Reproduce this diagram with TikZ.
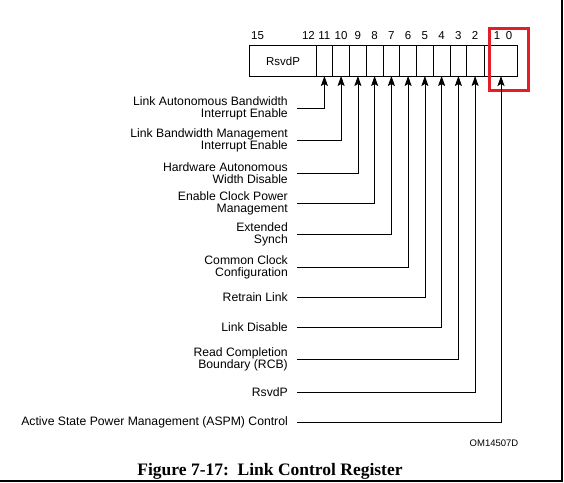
\documentclass[tikz,border=0pt]{standalone}
\usepackage{fontspec}
\setmainfont{Liberation Sans}
\newfontfamily\capfont{Liberation Serif}
\usetikzlibrary{arrows.meta}
\definecolor{markred}{RGB}{228,30,38}
\tikzset{
  bitnum/.style={inner sep=0pt, anchor=base, font=\fontsize{11.5}{13}\selectfont},
  fieldlbl/.style={anchor=east, align=right, inner sep=0pt, font=\fontsize{12.2}{12}\selectfont},
  feed/.style={line width=0.8pt, -{Stealth[length=10pt,width=7pt,inset=2pt]}},
  regline/.style={line width=0.8pt},
}

\begin{document}
\begin{tikzpicture}[x=1pt,y=-1pt]
    \useasboundingbox (0,0) rectangle (564,482);
    % page edges
    \draw[line width=1.2pt] (0,481) -- (562,481) -- (562,0);
    % register box and bit cells
    \draw[regline] (249,45) rectangle (517,76);
    \draw[regline] (316,45) -- (316,76);
    \draw[regline] (332.75,45) -- (332.75,76);
    \draw[regline] (349.5,45) -- (349.5,76);
    \draw[regline] (366.25,45) -- (366.25,76);
    \draw[regline] (383,45) -- (383,76);
    \draw[regline] (399.75,45) -- (399.75,76);
    \draw[regline] (416.5,45) -- (416.5,76);
    \draw[regline] (433.25,45) -- (433.25,76);
    \draw[regline] (450,45) -- (450,76);
    \draw[regline] (466.75,45) -- (466.75,76);
    \draw[regline] (484,45) -- (484,76);
    \node[bitnum, anchor=center] (rsvdtop) at (283,61) {RsvdP};
    % bit numbers
    \node[bitnum, anchor=base west] (n15) at (251,39) {15};
    \node[bitnum, anchor=base east] (n12) at (315,39) {12};
    \node[bitnum] (n11) at (324.4,39) {11};
    \node[bitnum] (n10) at (341.1,39) {10};
    \node[bitnum] (n9) at (357.9,39) {9};
    \node[bitnum] (n8) at (374.6,39) {8};
    \node[bitnum] (n7) at (391.4,39) {7};
    \node[bitnum] (n6) at (408.1,39) {6};
    \node[bitnum] (n5) at (424.9,39) {5};
    \node[bitnum] (n4) at (441.6,39) {4};
    \node[bitnum] (n3) at (458.4,39) {3};
    \node[bitnum] (n2) at (475.1,39) {2};
    \node[bitnum] (n1) at (497,39) {1};
    \node[bitnum] (n0) at (509,39) {0};
    % highlight
    \draw[markred, line width=3pt] (489,28) rectangle (528,90);
    % arrow tips at the register
    \coordinate (t11) at (324.4,76);
    \coordinate (t10) at (341.1,76);
    \coordinate (t9) at (357.9,76);
    \coordinate (t8) at (374.6,76);
    \coordinate (t7) at (391.4,76);
    \coordinate (t6) at (408.1,76);
    \coordinate (t5) at (424.9,76);
    \coordinate (t4) at (441.6,76);
    \coordinate (t3) at (458.4,76);
    \coordinate (t2) at (475.1,76);
    \coordinate (t0) at (501,76);
    % field names
    \node[fieldlbl] (lbwie) at (288,108) {Link Autonomous Bandwidth\\Interrupt Enable};
    \node[fieldlbl] (lbmie) at (288,140) {Link Bandwidth Management\\Interrupt Enable};
    \node[fieldlbl] (hawd) at (288,173) {Hardware Autonomous\\Width Disable};
    \node[fieldlbl] (ecpm) at (288,203) {Enable Clock Power\\Management};
    \node[fieldlbl] (es) at (288,234) {Extended\\Synch};
    \node[fieldlbl] (ccc) at (288,267) {Common Clock\\Configuration};
    \node[fieldlbl] (rl) at (288,297) {Retrain Link};
    \node[fieldlbl] (ld) at (288,327) {Link Disable};
    \node[fieldlbl] (rcb) at (288,359) {Read Completion\\Boundary (RCB)};
    \node[fieldlbl] (rsvd) at (288,392) {RsvdP};
    \node[fieldlbl] (aspm) at (288,422) {Active State Power Management (ASPM) Control};
    % connectors
    \draw[feed] ([xshift=9pt]lbwie.east) -| (t11);
    \draw[feed] ([xshift=9pt]lbmie.east) -| (t10);
    \draw[feed] ([xshift=9pt]hawd.east) -| (t9);
    \draw[feed] ([xshift=9pt]ecpm.east) -| (t8);
    \draw[feed] ([xshift=9pt]es.east) -| (t7);
    \draw[feed] ([xshift=9pt]ccc.east) -| (t6);
    \draw[feed] ([xshift=9pt]rl.east) -| (t5);
    \draw[feed] ([xshift=9pt]ld.east) -| (t4);
    \draw[feed] ([xshift=9pt]rcb.east) -| (t3);
    \draw[feed] ([xshift=9pt]rsvd.east) -| (t2);
    \draw[feed] ([xshift=9pt]aspm.east) -| (t0);
    \node[font=\fontsize{9.5}{11}\selectfont] (figid) at (494,443) {OM14507D};
    \node[font=\capfont\bfseries\fontsize{17.5}{19}\selectfont] (caption) at (270,471) {Figure 7-17:\ \ Link Control Register};
\end{tikzpicture}
\end{document}
